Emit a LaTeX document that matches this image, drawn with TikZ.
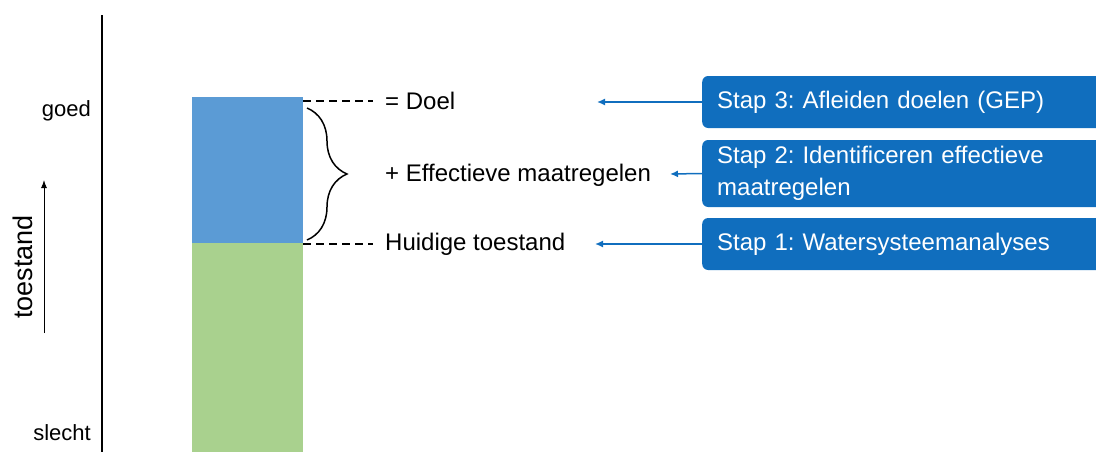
\documentclass[tikz,border=0pt]{standalone}
\usepackage{fontspec}
\setmainfont{Liberation Sans}
\usetikzlibrary{positioning, arrows.meta, decorations.pathreplacing}

\definecolor{stapblauw}{RGB}{16,110,190}
\definecolor{doelblauw}{RGB}{91,155,213}
\definecolor{huidiggroen}{RGB}{169,209,142}
\frenchspacing

\begin{document}
\begin{tikzpicture}[x=1pt,y=-1pt]
	\tikzstyle{every node}=[font=\fontsize{24}{32}\selectfont]
	\tikzstyle{stap}=[fill=stapblauw, rounded corners=6pt, text=white, anchor=west, text width=380pt, align=left, inner xsep=15pt, inner ysep=5pt, minimum height=52pt]
	\tikzstyle{pijl}=[draw=stapblauw, line width=1.5pt, -{Latex[length=8pt,width=7pt]}]
	\tikzstyle{streep}=[draw, dash pattern=on 8pt off 5pt, line width=1.5pt, shorten >=10pt]
	\tikzstyle{tekst}=[anchor=west, inner sep=2pt]
	\tikzstyle{vak}=[inner sep=0, anchor=north west, minimum width=111pt]
	\tikzstyle{as}=[font=\fontsize{22}{26}\selectfont, anchor=east, inner sep=0]

	\clip (0,0) rectangle (1096,451);

	% as
	\draw[line width=2pt] (102,15) -- (102,455);
	\node[as] (goed) at (91,111) {goed};
	\node[as] (slecht) at (91,433) {slecht};
	\node[rotate=90, anchor=south, inner sep=0, font=\fontsize{27}{30}\selectfont] (toestand) at (33,267) {toestand};
	\coordinate (pijlonder) at (44,333);
	\coordinate (pijlboven) at (44,180);
	\draw[line width=1pt, -{Latex[length=8pt,width=6pt]}] (pijlonder) -- (pijlboven);

	% staven
	\node[vak, fill=doelblauw, minimum height=146pt] (doelvak) at (192,97) {};
	\node[vak, fill=huidiggroen, minimum height=212pt] (huidigvak) at (192,243) {};

	% teksten
	\node[tekst] (doel) at (383,101) {= Doel};
	\node[tekst] (effectief) at (383,175) {+ Effectieve maatregelen};
	\node[tekst] (huidig) at (383,244) {Huidige toestand};

	\draw[streep] (doel -| doelvak.east) -- (doel.west);
	\draw[streep] (huidig -| huidigvak.east) -- (huidig.west);
	\draw[decorate, decoration={brace, amplitude=40pt}, line width=1.5pt] (307,108) -- (307,240);

	% stappen
	\node[stap] (stap3) at (702,102) {Stap 3: Afleiden doelen (GEP)};
	\node[stap, minimum height=67pt] (stap2) at (702,173.5) {Stap 2: Identificeren effectieve\\maatregelen};
	\node[stap] (stap1) at (702,244) {Stap 1: Watersysteemanalyses};

	\coordinate (doelpijl) at (597,102);
	\coordinate (effectiefpijl) at (670,174);
	\coordinate (huidigpijl) at (595,244);
	\draw[pijl] (stap3.west) -- (doelpijl);
	\draw[pijl] (stap2.west) -- (effectiefpijl);
	\draw[pijl] (stap1.west) -- (huidigpijl);
\end{tikzpicture}
\end{document}
